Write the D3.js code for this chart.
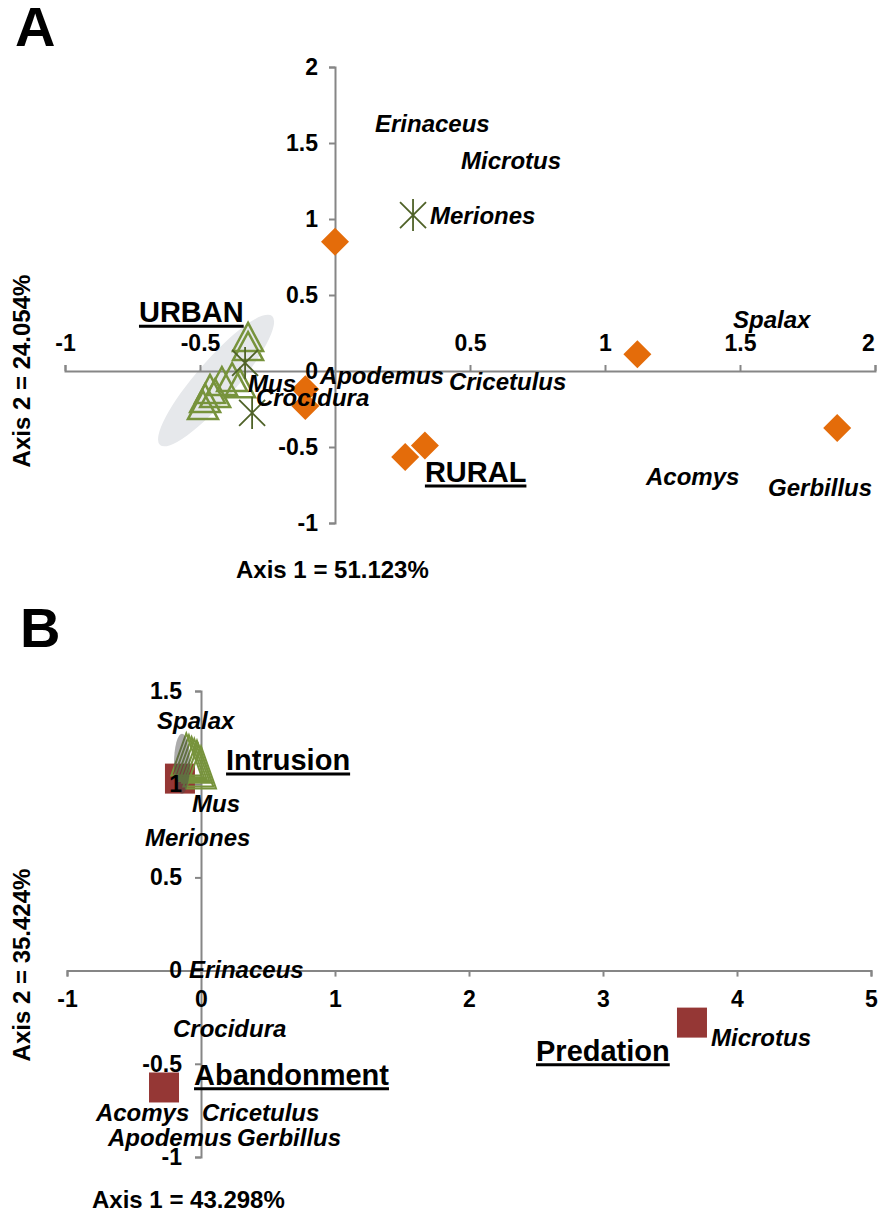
<!DOCTYPE html>
<html>
<head>
<meta charset="utf-8">
<script src="https://cdn.jsdelivr.net/npm/d3@7"></script>
<style>
  body { margin: 0; background: #fff; }
  text { font-family: "Liberation Sans", Arial, sans-serif; font-weight: bold; fill: #000; }
</style>
</head>
<body>
<svg id="chart" width="880" height="1213"></svg>
<script>
(function(){

  // ---- panel A data (axis 1 / axis 2 scores) ----
  var aTicksX = [-1, -0.5, 0.5, 1, 1.5, 2];
  var aTicksY = [-1, -0.5, 0, 0.5, 1, 1.5, 2];
  var aDiamonds = [[0, 0.85], [1.12, 0.11], [1.86, -0.375], [0.333, -0.49], [0.26, -0.565], [-0.11, -0.12], [-0.11, -0.23]];
  var aTriangles = [[-0.322, 0.224], [-0.322, 0.164], [-0.381, -0.04], [-0.352, -0.08], [-0.419, -0.066],
                    [-0.444, -0.145], [-0.463, -0.118], [-0.481, -0.178], [-0.489, -0.224]];
  var aStars = [[0.289, 1.026], [-0.333, 0.053], [-0.307, -0.276]];
  var aHull = [[-0.648, -0.487], [-0.233, 0.362]];
  var aLabels = [
    ['Erinaceus', 0.148, 1.625], ['Microtus', 0.467, 1.382], ['Meriones', 0.352, 1.02],
    ['Spalax', 1.474, 0.336], ['Apodemus', -0.056, -0.033], ['Cricetulus', 0.422, -0.072],
    ['Mus', -0.322, -0.086], ['Crocidura', -0.293, -0.178], ['Acomys', 1.152, -0.697],
    ['Gerbillus', 1.604, -0.77]
  ];
  var aGroups = [['URBAN', -0.726, 0.388], ['RURAL', 0.333, -0.664]];

  // ---- panel B data ----
  var bTicksX = [-1, 0, 1, 2, 3, 4, 5];
  var bTicksY = [-1, -0.5, 0, 0.5, 1, 1.5];
  var bSquares = [[-0.157, 1.03], [-0.276, -0.627], [3.664, -0.279]];
  var bTriangles = [[-0.11, 1.16], [-0.09, 1.15], [-0.07, 1.14], [-0.05, 1.13], [-0.03, 1.12], [-0.02, 1.10], [0.0, 1.09]];
  var bShade = [-0.142, 1.11];
  var bLabels = [
    ['Spalax', -0.328, 1.34], ['Mus', -0.067, 0.895], ['Meriones', -0.418, 0.713],
    ['Erinaceus', -0.09, 0.005], ['Crocidura', -0.209, -0.311], ['Acomys', -0.784, -0.761],
    ['Cricetulus', 0.007, -0.761], ['Apodemus', -0.694, -0.895], ['Gerbillus', 0.269, -0.895],
    ['Microtus', 3.806, -0.359]
  ];
  var bGroups = [['Intrusion', 0.187, 1.131], ['Abandonment', -0.052, -0.558], ['Predation', 2.5, -0.429]];

  var axisColor = '#868686';
  var svg = d3.select('#chart');

  function styleAxis(g) {
    g.selectAll('path, line').attr('stroke', axisColor).attr('stroke-width', 2);
  }

  function textOnly(g) {
    g.selectAll('path, line').remove();
    g.selectAll('text').attr('font-size', '23px').attr('font-family', null).attr('fill', '#000');
  }

  function speciesLabels(g, data, x, y) {
    g.selectAll('text.sp')
     .data(data)
     .enter()
     .append('text')
     .attr('class', 'sp')
     .attr('x', function(d) { return x(d[1]); })
     .attr('y', function(d) { return y(d[2]); })
     .attr('dy', '0.35em')
     .attr('font-size', '24px')
     .attr('font-style', 'italic')
     .text(function(d) { return d[0]; });
  }

  function groupLabels(g, data, x, y, size) {
    data.forEach(function(d) {
      var t = g.append('text')
               .attr('x', x(d[1]))
               .attr('y', y(d[2]))
               .attr('dy', '0.35em')
               .attr('font-size', size + 'px')
               .text(d[0]);
      var len = t.node().getComputedTextLength();
      var base = y(d[2]) + size * 0.35 + 4;
      g.append('line')
       .attr('x1', x(d[1])).attr('x2', x(d[1]) + len)
       .attr('y1', base).attr('y2', base)
       .attr('stroke', '#000').attr('stroke-width', 3);
    });
  }

  function triPath(cx, cy, w, h) {
    return 'M' + cx + ',' + (cy - h / 2) + 'L' + (cx + w / 2) + ',' + (cy + h / 2) + 'L' + (cx - w / 2) + ',' + (cy + h / 2) + 'Z';
  }

  // ================= Panel A =================
  var ax = d3.scaleLinear().domain([-1, 2]).range([65, 875]);
  var ay = d3.scaleLinear().domain([-1, 2]).range([523, 67]);
  var gA = svg.append('g');

  svg.append('text').attr('x', 15).attr('y', 46).attr('font-size', '56px').text('A');

  // hull ellipse
  var p1 = [ax(aHull[0][0]), ay(aHull[0][1])], p2 = [ax(aHull[1][0]), ay(aHull[1][1])];
  var ang = Math.atan2(p2[1] - p1[1], p2[0] - p1[0]) * 180 / Math.PI;
  gA.append('ellipse')
    .attr('cx', (p1[0] + p2[0]) / 2).attr('cy', (p1[1] + p2[1]) / 2)
    .attr('rx', Math.hypot(p2[0] - p1[0], p2[1] - p1[1]) / 2).attr('ry', 20)
    .attr('transform', 'rotate(' + ang + ',' + (p1[0] + p2[0]) / 2 + ',' + (p1[1] + p2[1]) / 2 + ')')
    .attr('fill', '#e6e8eb');

  gA.append('g').attr('transform', 'translate(0,' + ay(0) + ')')
    .call(d3.axisTop(ax).tickValues(aTicksX).tickSize(6).tickSizeOuter(6))
    .call(styleAxis).selectAll('text').remove();
  gA.append('g').attr('transform', 'translate(' + ax(0) + ',0)')
    .call(d3.axisLeft(ay).tickValues(aTicksY).tickSize(6).tickSizeOuter(6))
    .call(styleAxis).selectAll('text').remove();

  gA.selectAll('path.tri')
    .data(aTriangles).enter().append('path')
    .attr('d', function(d) { return triPath(ax(d[0]), ay(d[1]), 30, 28); })
    .attr('fill', 'none').attr('stroke', '#77933c').attr('stroke-width', 2.5);

  gA.selectAll('path.star')
    .data(aStars).enter().append('path')
    .attr('d', function(d) {
      var x = ax(d[0]), y = ay(d[1]);
      return 'M' + (x - 13) + ',' + (y - 13) + 'L' + (x + 13) + ',' + (y + 13) +
             'M' + (x + 13) + ',' + (y - 13) + 'L' + (x - 13) + ',' + (y + 13) +
             'M' + x + ',' + (y - 16) + 'L' + x + ',' + (y + 16);
    })
    .attr('stroke', '#4f6228').attr('stroke-width', 1.8).attr('fill', 'none');

  gA.selectAll('path.dia')
    .data(aDiamonds).enter().append('path')
    .attr('d', function(d) {
      var x = ax(d[0]), y = ay(d[1]);
      return 'M' + x + ',' + (y - 14) + 'L' + (x + 14) + ',' + y + 'L' + x + ',' + (y + 14) + 'L' + (x - 14) + ',' + y + 'Z';
    })
    .attr('fill', '#e46c0a');

  gA.append('g').attr('transform', 'translate(0,' + ay(0) + ')')
    .call(d3.axisTop(ax).tickValues(aTicksX).tickSize(6).tickPadding(14).tickFormat(function(d){ return d; }))
    .call(textOnly)
    .selectAll('text').attr('dx', function(d) { return d === 2 ? -7 : 0; });
  gA.append('g').attr('transform', 'translate(' + ax(0) + ',0)')
    .call(d3.axisLeft(ay).tickValues(aTicksY).tickSize(6).tickPadding(11).tickFormat(function(d){ return d; }))
    .call(textOnly);

  speciesLabels(gA, aLabels, ax, ay);
  groupLabels(gA, aGroups, ax, ay, 29);

  gA.append('text').attr('x', 236).attr('y', 578).attr('font-size', '24px').text('Axis 1 = 51.123%');
  gA.append('text').attr('transform', 'translate(30,371) rotate(-90)').attr('text-anchor', 'middle')
    .attr('font-size', '24px').text('Axis 2 = 24.054%');

  // ================= Panel B =================
  var bx = d3.scaleLinear().domain([-1, 5]).range([67, 871]);
  var by = d3.scaleLinear().domain([-1, 1.5]).range([1157, 691]);
  var gB = svg.append('g');

  svg.append('text').attr('x', 20).attr('y', 647).attr('font-size', '56px').text('B');

  gB.append('g').attr('transform', 'translate(0,' + by(0) + ')')
    .call(d3.axisBottom(bx).tickValues(bTicksX).tickSize(6).tickSizeOuter(6))
    .call(styleAxis).selectAll('text').remove();
  gB.append('g').attr('transform', 'translate(' + bx(0) + ',0)')
    .call(d3.axisLeft(by).tickValues(bTicksY).tickSize(6).tickSizeOuter(6))
    .call(styleAxis).selectAll('text').remove();

  gB.selectAll('rect.sq')
    .data(bSquares).enter().append('rect')
    .attr('x', function(d) { return bx(d[0]) - 15; })
    .attr('y', function(d) { return by(d[1]) - 15; })
    .attr('width', 30).attr('height', 30)
    .attr('fill', '#953735');

  gB.selectAll('path.tri')
    .data(bTriangles).enter().append('path')
    .attr('d', function(d) { return triPath(bx(d[0]), by(d[1]), 30, 42); })
    .attr('fill', 'none').attr('stroke', '#77933c').attr('stroke-width', 2);

  gB.append('ellipse')
    .attr('cx', bx(bShade[0])).attr('cy', by(bShade[1]))
    .attr('rx', 8).attr('ry', 30)
    .attr('fill', 'rgba(70,70,70,0.45)');

  gB.append('g').attr('transform', 'translate(0,' + by(0) + ')')
    .call(d3.axisBottom(bx).tickValues(bTicksX).tickSize(6).tickPadding(14).tickFormat(function(d){ return d; }))
    .call(textOnly);
  gB.append('g').attr('transform', 'translate(' + bx(0) + ',0)')
    .call(d3.axisLeft(by).tickValues(bTicksY).tickSize(6).tickPadding(13).tickFormat(function(d){ return d; }))
    .call(textOnly);

  speciesLabels(gB, bLabels, bx, by);
  groupLabels(gB, bGroups, bx, by, 29);

  gB.append('text').attr('x', 92).attr('y', 1208).attr('font-size', '24px').text('Axis 1 = 43.298%');
  gB.append('text').attr('transform', 'translate(30,965) rotate(-90)').attr('text-anchor', 'middle')
    .attr('font-size', '24px').text('Axis 2 = 35.424%');

})();
</script>
</body>
</html>
